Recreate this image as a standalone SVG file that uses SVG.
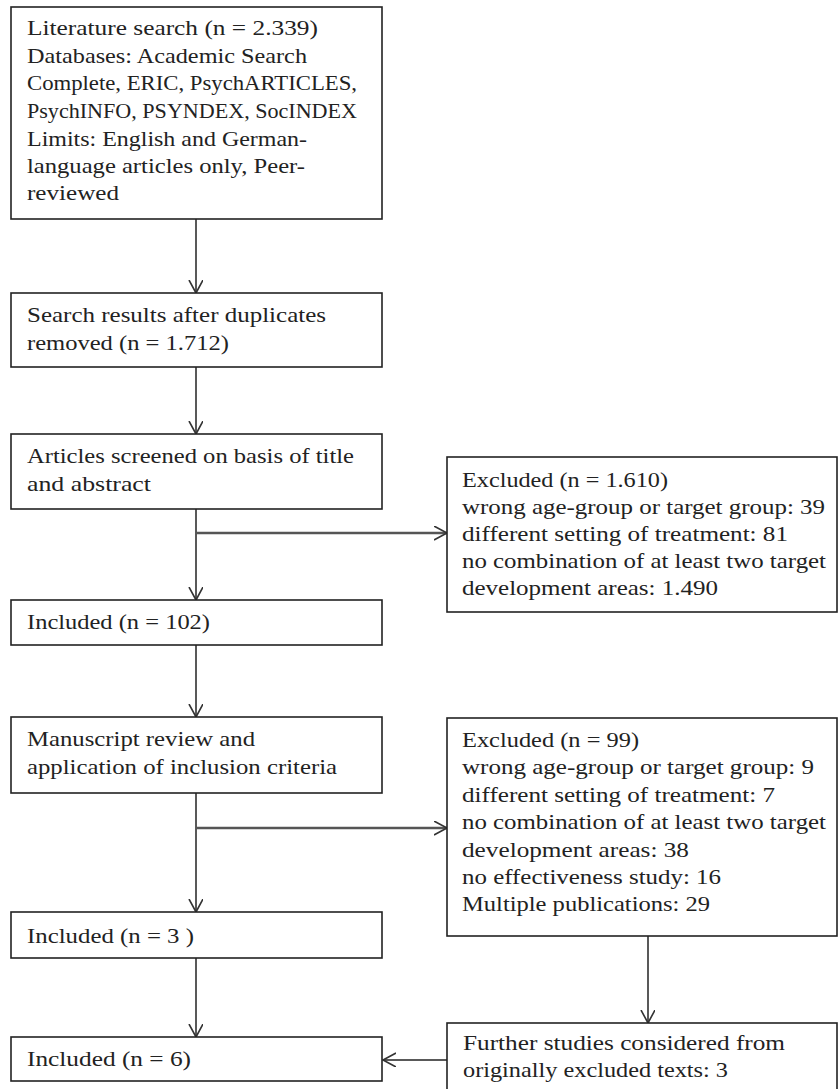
<svg xmlns="http://www.w3.org/2000/svg" width="838" height="1089" viewBox="0 0 838 1089">
<style>
  .box { fill: #ffffff; stroke: #222222; stroke-width: 1.6; }
  .t { font-family: "Liberation Serif", "Times New Roman", serif; font-size: 22px; fill: #222222; }
  .c { fill: none; stroke: #222222; stroke-width: 1.5; }
  .b { fill: none; stroke: #555555; stroke-width: 2.4; }
</style>
<defs>
  <marker id="ah" markerUnits="userSpaceOnUse" markerWidth="16" markerHeight="16" refX="13" refY="7" orient="auto">
    <path d="M0,0 L13,7 L0,14" fill="none" stroke="#333333" stroke-width="1.6"/>
  </marker>
</defs>
<rect width="838" height="1089" fill="#ffffff"/>

<g id="connectors">
  <line class="c" x1="196" y1="219" x2="196" y2="293" marker-end="url(#ah)"/>
  <line class="c" x1="196" y1="367" x2="196" y2="434" marker-end="url(#ah)"/>
  <line class="c" x1="196" y1="509" x2="196" y2="600" marker-end="url(#ah)"/>
  <line class="b" x1="196" y1="533" x2="447" y2="533" marker-end="url(#ah)"/>
  <line class="c" x1="196" y1="645" x2="196" y2="717" marker-end="url(#ah)"/>
  <line class="c" x1="196" y1="793" x2="196" y2="912" marker-end="url(#ah)"/>
  <line class="b" x1="196" y1="828" x2="447" y2="828" marker-end="url(#ah)"/>
  <line class="c" x1="196" y1="958" x2="196" y2="1037" marker-end="url(#ah)"/>
  <line class="c" x1="648" y1="936" x2="648" y2="1023" marker-end="url(#ah)"/>
  <line class="c" x1="447" y1="1060" x2="383" y2="1060" marker-end="url(#ah)"/>
</g>

<g id="literature-search">
  <rect class="box" x="11" y="7" width="371" height="212"/>
  <text class="t" x="27" y="35" textLength="291" lengthAdjust="spacingAndGlyphs">Literature search  (n = 2.339)</text>
  <text class="t" x="27" y="63" textLength="280" lengthAdjust="spacingAndGlyphs">Databases: Academic Search</text>
  <text class="t" x="27" y="90" textLength="330" lengthAdjust="spacingAndGlyphs">Complete, ERIC, PsychARTICLES,</text>
  <text class="t" x="27" y="118" textLength="330" lengthAdjust="spacingAndGlyphs">PsychINFO, PSYNDEX, SocINDEX</text>
  <text class="t" x="27" y="146" textLength="280" lengthAdjust="spacingAndGlyphs">Limits: English and German-</text>
  <text class="t" x="27" y="173" textLength="278" lengthAdjust="spacingAndGlyphs">language articles only, Peer-</text>
  <text class="t" x="27" y="200" textLength="92" lengthAdjust="spacingAndGlyphs">reviewed</text>
</g>

<g id="duplicates-removed">
  <rect class="box" x="11" y="293" width="371" height="74"/>
  <text class="t" x="27" y="322" textLength="299" lengthAdjust="spacingAndGlyphs">Search results  after duplicates</text>
  <text class="t" x="27" y="350" textLength="202" lengthAdjust="spacingAndGlyphs">removed (n = 1.712)</text>
</g>

<g id="screened">
  <rect class="box" x="11" y="434" width="371" height="75"/>
  <text class="t" x="27" y="463" textLength="327" lengthAdjust="spacingAndGlyphs">Articles screened on basis of title</text>
  <text class="t" x="27" y="491" textLength="124" lengthAdjust="spacingAndGlyphs">and abstract</text>
</g>

<g id="excluded-1">
  <rect class="box" x="447" y="457" width="390" height="155"/>
  <text class="t" x="462" y="487" textLength="206" lengthAdjust="spacingAndGlyphs">Excluded (n = 1.610)</text>
  <text class="t" x="462" y="514" textLength="363" lengthAdjust="spacingAndGlyphs">wrong age-group or target group: 39</text>
  <text class="t" x="462" y="541" textLength="326" lengthAdjust="spacingAndGlyphs">different setting of treatment: 81</text>
  <text class="t" x="462" y="568" textLength="364" lengthAdjust="spacingAndGlyphs">no combination of at least two target</text>
  <text class="t" x="462" y="595" textLength="256" lengthAdjust="spacingAndGlyphs">development areas: 1.490</text>
</g>

<g id="included-102">
  <rect class="box" x="11" y="600" width="371" height="45"/>
  <text class="t" x="27" y="629" textLength="183" lengthAdjust="spacingAndGlyphs">Included (n = 102)</text>
</g>

<g id="manuscript-review">
  <rect class="box" x="11" y="717" width="371" height="76"/>
  <text class="t" x="27" y="746" textLength="228" lengthAdjust="spacingAndGlyphs">Manuscript review and</text>
  <text class="t" x="27" y="774" textLength="310" lengthAdjust="spacingAndGlyphs">application of inclusion criteria</text>
</g>

<g id="excluded-2">
  <rect class="box" x="447" y="718" width="390" height="218"/>
  <text class="t" x="462" y="747" textLength="177" lengthAdjust="spacingAndGlyphs">Excluded (n = 99)</text>
  <text class="t" x="462" y="774" textLength="352" lengthAdjust="spacingAndGlyphs">wrong age-group or target group: 9</text>
  <text class="t" x="462" y="802" textLength="313" lengthAdjust="spacingAndGlyphs">different setting of treatment: 7</text>
  <text class="t" x="462" y="829" textLength="364" lengthAdjust="spacingAndGlyphs">no combination of at least two target</text>
  <text class="t" x="462" y="857" textLength="227" lengthAdjust="spacingAndGlyphs">development areas: 38</text>
  <text class="t" x="462" y="884" textLength="259" lengthAdjust="spacingAndGlyphs">no effectiveness study: 16</text>
  <text class="t" x="462" y="911" textLength="248" lengthAdjust="spacingAndGlyphs">Multiple publications: 29</text>
</g>

<g id="included-3">
  <rect class="box" x="11" y="912" width="371" height="46"/>
  <text class="t" x="27" y="943" textLength="167" lengthAdjust="spacingAndGlyphs">Included (n =  3 )</text>
</g>

<g id="included-6">
  <rect class="box" x="11" y="1037" width="371" height="44"/>
  <text class="t" x="27" y="1066" textLength="164" lengthAdjust="spacingAndGlyphs">Included (n =  6)</text>
</g>

<g id="further-studies">
  <rect class="box" x="447" y="1023" width="390" height="80"/>
  <text class="t" x="463" y="1050" textLength="322" lengthAdjust="spacingAndGlyphs">Further studies considered from</text>
  <text class="t" x="463" y="1077" textLength="265" lengthAdjust="spacingAndGlyphs">originally excluded texts: 3</text>
</g>
</svg>
